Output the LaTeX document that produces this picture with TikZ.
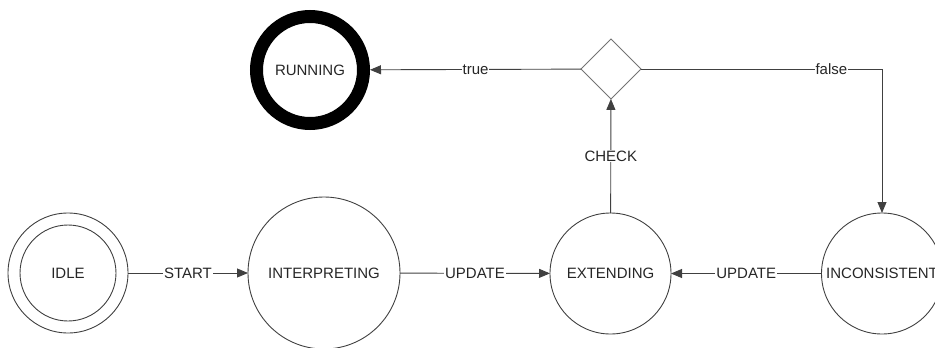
\documentclass[tikz,border=0pt]{standalone}
\usepackage{fontspec}
\setmainfont{Liberation Sans}
\usetikzlibrary{arrows.meta,shapes.geometric}
\begin{document}
\begin{tikzpicture}[x=1pt,y=-1pt,
  every node/.style={font=\fontsize{15}{17}\selectfont, text=black!85},
  state/.style={circle, draw=black!75, line width=0.9pt, inner sep=0pt, outer sep=0pt},
  dec/.style={diamond, draw=black!55, line width=0.9pt, minimum width=60pt, minimum height=60pt, inner sep=0pt, outer sep=0pt},
  conn/.style={draw=black!75, line width=0.9pt},
  arr/.style={conn, -{Triangle[length=11pt,width=9pt]}},
  lbl/.style={fill=white, inner sep=1pt}
]
\useasboundingbox (0,0) rectangle (935,348);
\node[state, minimum size=120pt] (idle) at (68,273) {};
\node[state, minimum size=96pt] (idlein) at (68,273) {IDLE};
\node[state, minimum size=152pt] (interp) at (324,273) {INTERPRETING};
\node[state, minimum size=121pt] (ext) at (610.5,273.5) {EXTENDING};
\node[state, minimum size=121pt] (incon) at (882,273.5) {INCONSISTENT};
\node[circle, draw=black, line width=13pt, minimum size=107pt, inner sep=0pt, outer sep=6.5pt] (run) at (310,70) {RUNNING};
\node[dec] (chk) at (611,69) {};
\coordinate (corner) at (882,69);

\draw[arr] (idle) -- node[lbl] {START} (interp);
\draw[arr] (interp) -- node[lbl] {UPDATE} (ext);
\draw[arr] (incon) -- node[lbl] {UPDATE} (ext);
\draw[arr] (ext) -- node[lbl] {CHECK} (chk);
\draw[arr] (chk) -- node[lbl] {true} (run);
\draw[arr] (chk.east) -- node[lbl, pos=0.79] {false} (corner) -- (incon);
\end{tikzpicture}
\end{document}
